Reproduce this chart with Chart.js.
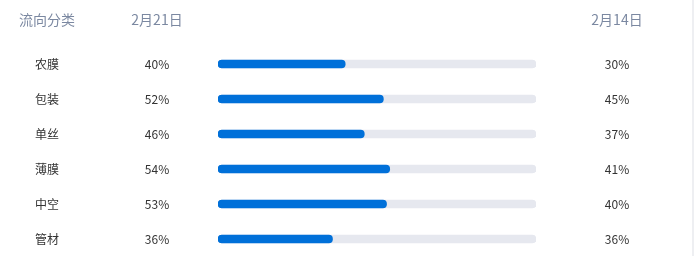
<!DOCTYPE html>
<html>
<head>
<meta charset="utf-8">
<script src="https://cdn.jsdelivr.net/npm/chart.js@4"></script>
<style>
    html, body { margin: 0; padding: 0; background: #fff; }
    #wrap { position: relative; width: 699px; height: 258px; }
    #wrap::after { content: ''; position: absolute; left: 692px; top: 0; width: 2px; height: 256px; background: #eeeff2; }
</style>
</head>
<body>
<div id="wrap"><canvas id="flowChart" width="699" height="258"></canvas></div>
<script>
const categories = ['农膜', '包装', '单丝', '薄膜', '中空', '管材'];
const currValues = [40, 52, 46, 54, 53, 36];   // 2月21日
const prevValues = [30, 45, 37, 41, 40, 36];   // 2月14日
const headers = ['流向分类', '2月21日', '2月14日'];

const FONT = '"Microsoft YaHei", "Noto Sans CJK SC", sans-serif';

// columns: category / current % / previous %
const COL_X = [47, 157, 617];

const columnText = {
    id: 'columnText',
    afterDraw(chart) {
        const ctx = chart.ctx;
        const yScale = chart.scales.y;
        ctx.save();
        ctx.textAlign = 'center';
        ctx.textBaseline = 'middle';

        ctx.font = '14px ' + FONT;
        ctx.fillStyle = '#7b88a1';
        headers.forEach((h, i) => ctx.fillText(h, COL_X[i], 20));

        ctx.font = '12px ' + FONT;
        ctx.fillStyle = '#333';
        categories.forEach((c, i) => {
            const y = yScale.getPixelForValue(i);
            ctx.fillText(c, COL_X[0], y);
            ctx.fillText(currValues[i] + '%', COL_X[1], y);
            ctx.fillText(prevValues[i] + '%', COL_X[2], y);
        });
        ctx.restore();
    }
};

new Chart(document.getElementById('flowChart').getContext('2d'), {
    type: 'bar',
    data: {
        labels: categories,
        datasets: [
            {
                label: '2月21日',
                data: currValues,
                backgroundColor: '#0070d9',
                barThickness: 8,
                borderRadius: 4,
                borderSkipped: false,
                grouped: false,
                order: 0
            },
            {
                label: 'track',
                data: categories.map(() => 100),
                backgroundColor: '#e6e8ef',
                barThickness: 8,
                borderRadius: 4,
                borderSkipped: false,
                grouped: false,
                order: 1
            }
        ]
    },
    options: {
        indexAxis: 'y',
        responsive: false,
        animation: false,
        layout: { padding: { left: 218, right: 163, top: 46.5, bottom: 1.5 } },
        plugins: { legend: { display: false }, tooltip: { enabled: false } },
        scales: {
            x: { min: 0, max: 100, display: false },
            y: { display: false }
        }
    },
    plugins: [columnText]
});
</script>
</body>
</html>
